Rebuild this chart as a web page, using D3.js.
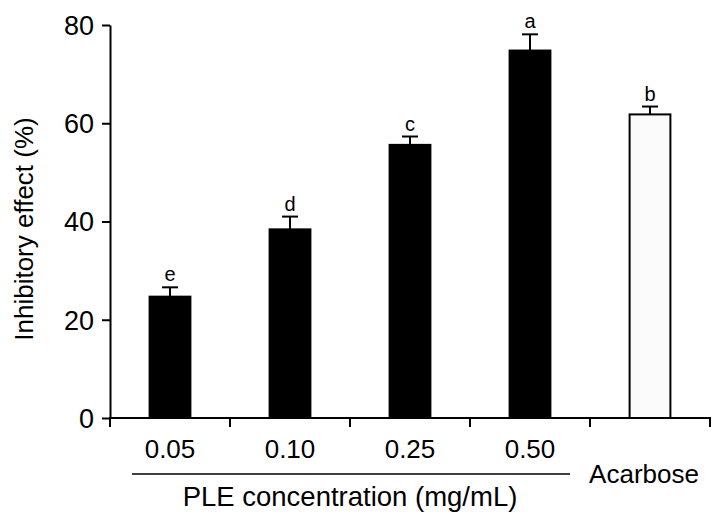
<!DOCTYPE html>
<html>
<head>
<meta charset="utf-8">
<script src="https://cdn.jsdelivr.net/npm/d3@7"></script>
<style>
  html, body { margin: 0; padding: 0; background: #fff; }
  svg { display: block; font-family: "Liberation Sans", Arial, sans-serif; }
</style>
</head>
<body>
<svg id="chart" width="719" height="530"></svg>
<script>
const categories = ["0.05", "0.10", "0.25", "0.50", "Acarbose"];
const values = [24.7, 38.4, 55.6, 74.8, 61.8];
const errors = [1.9, 2.6, 1.7, 3.3, 1.6];
const letters = ["e", "d", "c", "a", "b"];
const isControl = [false, false, false, false, true];
const yTicks = [0, 20, 40, 60, 80];
const groupLabel = "PLE concentration (mg/mL)";
const yLabel = "Inhibitory effect (%)";

const FONT = "'Liberation Sans', Arial, sans-serif";
const FS = "26px";
const svg = d3.select("#chart");
const x = d3.scaleBand().domain(categories).range([110, 710]).padding(0);
const y = d3.scaleLinear().domain([0, 80]).range([418, 25]);
const barW = x.bandwidth() * 0.34;

// Y axis
const yAxis = svg.append("g").attr("transform", "translate(110,0)")
  .call(d3.axisLeft(y).tickValues(yTicks).tickSize(8).tickSizeOuter(0).tickPadding(8));
yAxis.attr("font-size", null).attr("font-family", null);
yAxis.selectAll("text").style("font-size", "27px").style("font-family", FONT).attr("fill", "#000").attr("dy", "0.35em");
yAxis.selectAll("line, path").attr("stroke", "#000").attr("stroke-width", 2);

// X axis (ticks at band boundaries)
const boundaries = categories.map(c => x(c)).concat([x.range()[1]]);
const xg = svg.append("g");
xg.append("line").attr("x1", 109).attr("x2", 711).attr("y1", y(0)).attr("y2", y(0))
  .attr("stroke", "#000").attr("stroke-width", 2);
xg.selectAll(".tk").data(boundaries).join("line")
  .attr("x1", d => d).attr("x2", d => d).attr("y1", y(0)).attr("y2", y(0) + 9)
  .attr("stroke", "#000").attr("stroke-width", 2);

// Category labels
svg.selectAll(".cat").data(categories.slice(0, 4)).join("text")
  .attr("x", d => x(d) + x.bandwidth() / 2).attr("y", 458)
  .attr("text-anchor", "middle").style("font-size", FS).text(d => d);
svg.append("text").attr("x", x("Acarbose") + x.bandwidth() / 2 - 6).attr("y", 483)
  .attr("text-anchor", "middle").style("font-size", FS).text("Acarbose");

// Group underline and label
svg.append("line").attr("x1", 132).attr("x2", 570).attr("y1", 474).attr("y2", 474)
  .attr("stroke", "#000").attr("stroke-width", 1.5);
svg.append("text").attr("x", 350).attr("y", 506).attr("text-anchor", "middle")
  .style("font-size", "27.5px").text(groupLabel);

// Y label
svg.append("text").attr("transform", "translate(33,229) rotate(-90)")
  .attr("text-anchor", "middle").style("font-size", FS).text(yLabel);

const data = categories.map((c, i) => ({ c, v: values[i], e: errors[i], l: letters[i], ctrl: isControl[i] }));

// Error bars
const eg = svg.append("g");
data.forEach(d => {
  const cx = x(d.c) + x.bandwidth() / 2;
  eg.append("line").attr("x1", cx).attr("x2", cx).attr("y1", y(d.v)).attr("y2", y(d.v + d.e))
    .attr("stroke", "#000").attr("stroke-width", 2);
  eg.append("line").attr("x1", cx - 8).attr("x2", cx + 8).attr("y1", y(d.v + d.e)).attr("y2", y(d.v + d.e))
    .attr("stroke", "#000").attr("stroke-width", 2);
  svg.append("text").attr("x", cx).attr("y", y(d.v + d.e) - 6)
    .attr("text-anchor", "middle").style("font-size", "20px").text(d.l);
});

// Bars
svg.selectAll(".bar").data(data).join("rect")
  .attr("x", d => x(d.c) + x.bandwidth() / 2 - barW / 2)
  .attr("width", barW)
  .attr("y", d => y(d.v))
  .attr("height", d => y(0) - y(d.v))
  .attr("fill", d => d.ctrl ? "#fbfbfb" : "#000")
  .attr("stroke", "#000").attr("stroke-width", 2);
</script>
</body>
</html>
